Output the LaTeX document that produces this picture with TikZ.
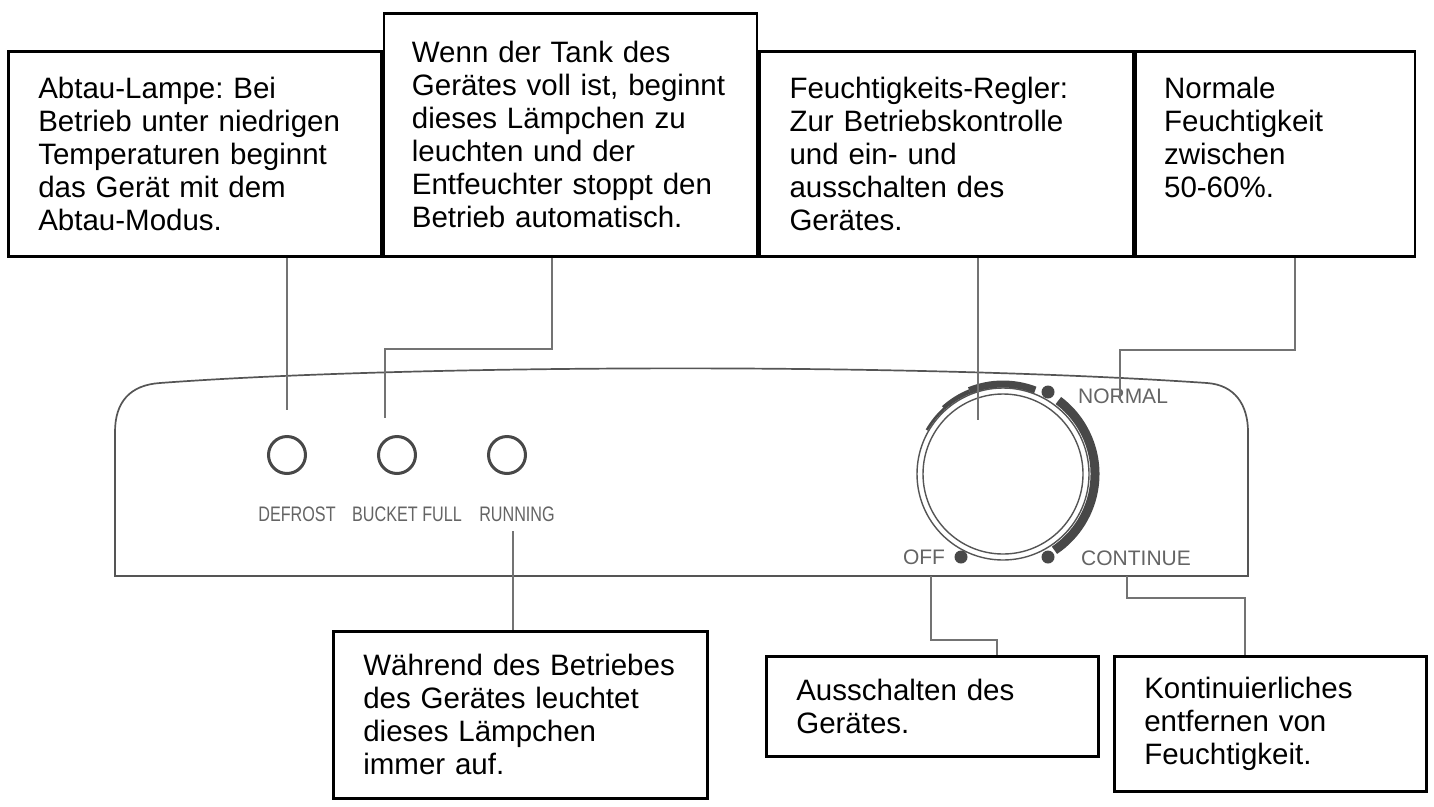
\documentclass[tikz,border=0pt]{standalone}
\usepackage{fontspec}
\setmainfont{Liberation Sans}
\newfontfamily\narrowfont[FakeStretch=0.77]{Liberation Sans}
\usetikzlibrary{positioning}
\definecolor{panelgray}{RGB}{85,85,85}
\definecolor{leadgray}{RGB}{115,115,115}
\definecolor{dialgray}{RGB}{72,72,72}
\definecolor{markgray}{RGB}{100,100,100}

\begin{document}
\begin{tikzpicture}[
  x=1pt, y=-1pt,
  note/.style={draw=black, line width=2.6pt, align=left, inner xsep=30pt, inner ysep=0pt, font=\fontsize{29.5}{33}\selectfont\frenchspacing},
  lead/.style={draw=leadgray, line width=1.5pt},
  panel/.style={draw=panelgray, line width=1.7pt},
  led/.style={circle, draw=dialgray, line width=3pt, minimum size=37pt, inner sep=0pt},
  dot/.style={circle, fill=dialgray, minimum size=13pt, inner sep=0pt},
  ledlabel/.style={text=markgray, font=\narrowfont\fontsize{21}{21}\selectfont, inner sep=0pt},
  dialabel/.style={text=markgray, font=\fontsize{21}{21}\selectfont, inner sep=0pt}
]
\useasboundingbox[fill=white] (0,0) rectangle (1434,806);

\node[note, anchor=north west, text width=313pt, minimum height=205pt] (defrostbox) at (7,50)
  {Abtau-Lampe: Bei\\Betrieb unter niedrigen\\Temperaturen beginnt\\das Gerät mit dem\\Abtau-Modus.};
\node[note, anchor=south west, text width=317pt, inner xsep=28pt, minimum height=243pt] (bucketbox) at (defrostbox.south east)
  {Wenn der Tank des\\\mbox{Gerätes voll ist, beginnt}\\dieses Lämpchen zu\\leuchten und der\\Entfeuchter stoppt den\\Betrieb automatisch.};
\node[note, anchor=south west, text width=314pt, minimum height=205pt] (humbox) at (bucketbox.south east)
  {Feuchtigkeits-Regler:\\Zur Betriebskontrolle\\und ein- und\\ausschalten des\\Gerätes.};
\node[note, anchor=south west, text width=223pt, inner xsep=28pt, minimum height=205pt] (normalbox) at (humbox.south east)
  {Normale\\Feuchtigkeit\\zwischen\\50-60\%.\\\mbox{}};

\node[note, anchor=north west, text width=314pt, minimum height=167pt] (runningbox) at (332,630)
  {Während des Betriebes\\des Gerätes leuchtet\\dieses Lämpchen\\immer auf.};
\node[note, anchor=north west, text width=272pt, minimum height=100pt] (offbox) at (765,655)
  {Ausschalten des\\Gerätes.};
\node[note, anchor=north west, text width=252pt, minimum height=135pt] (contbox) at (1113,655)
  {Kontinuierliches\\entfernen von\\Feuchtigkeit.};

\draw[panel] (115,576) -- (115,432) .. controls (115,402) and (130,385) .. (160,383)
  .. controls (400,365) and (900,362) .. (1207,383)
  .. controls (1235,385) and (1248,405) .. (1248,432) -- (1248,576) -- cycle;

\node[led] (defrostled) at (287,455) {};
\node[led] (bucketled) at (397,455) {};
\node[led] (runningled) at (507,455) {};
\node[ledlabel] (defrostlabel) at (297,514) {DEFROST};
\node[ledlabel] (bucketlabel) at (407,514) {BUCKET FULL};
\node[ledlabel] (runninglabel) at (517,514) {RUNNING};

\node[circle, draw=panelgray, line width=1.4pt, minimum size=172pt, inner sep=0pt] (dial) at (1003,474) {};
\draw[panelgray, line width=1.4pt] (dial.center) circle (80);
\draw[dialgray, line width=9pt] (dial.center) ++(-53:92) arc[start angle=-53, end angle=56, radius=92];
\draw[dialgray, line width=7pt] (dial.center) ++(-69:90) arc[start angle=-69, end angle=-112, radius=90];
\draw[dialgray, line width=4.5pt] (dial.center) ++(-112:89) arc[start angle=-112, end angle=-132, radius=89];
\draw[dialgray, line width=2.5pt] (dial.center) ++(-132:88) arc[start angle=-132, end angle=-150, radius=88];
\node[dot] (normaldot) at (1048,392) {};
\node[dot] (contdot) at (1048,557) {};
\node[dot] (offdot) at (961,557) {};
\node[dialabel] (normallabel) at (1123,396) {NORMAL};
\node[dialabel] (contlabel) at (1136,558) {CONTINUE};
\node[dialabel] (offlabel) at (924,557) {OFF};

\coordinate (defrosttip) at (287,410);
\coordinate (bucketbend) at (552,349);
\coordinate (buckettip) at (385,418);
\coordinate (runningtip) at (513,531);
\coordinate (dialtip) at (978,420);
\coordinate (normalbend) at (1295,350);
\coordinate (normaltip) at (1120,400);
\coordinate (offtip) at (931,576);
\coordinate (offbend) at (997,640);
\coordinate (conttip) at (1127,576);
\coordinate (contbend) at (1245,598);

\draw[lead] (defrostbox.south -| defrosttip) -- (defrosttip);
\draw[lead] (bucketbox.south -| bucketbend) -- (bucketbend) -| (buckettip);
\draw[lead] (runningtip) -- (runningtip |- runningbox.north);
\draw[lead] (humbox.south -| dialtip) -- (dialtip);
\draw[lead] (normalbox.south -| normalbend) -- (normalbend) -| (normaltip);
\draw[lead] (offtip) |- (offbend) -- (offbend |- offbox.north);
\draw[lead] (conttip) |- (contbend) -- (contbend |- contbox.north);
\end{tikzpicture}
\end{document}
